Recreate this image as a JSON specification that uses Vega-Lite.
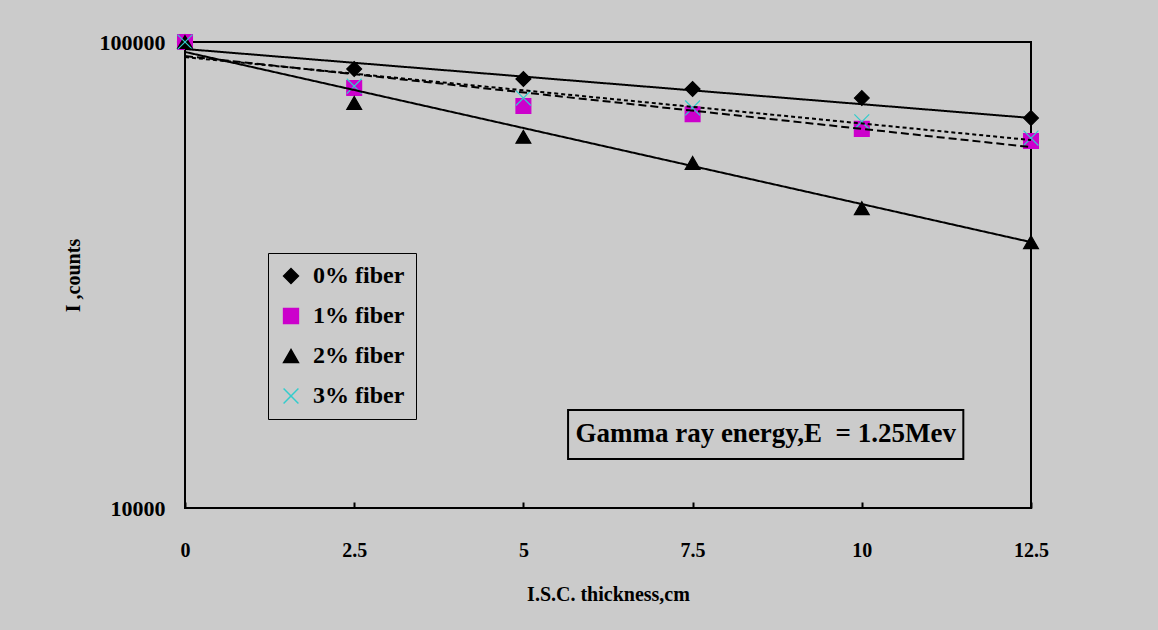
{
  "$schema": "https://vega.github.io/schema/vega-lite/v6.json",
  "width": 846,
  "height": 466,
  "autosize": {"type": "none"},
  "padding": {"left": 185, "top": 42, "right": 127, "bottom": 122},
  "background": "#cbcbcb",
  "config": {
    "view": {"stroke": "black", "strokeWidth": 2, "fill": "#cbcbcb"},
    "font": "Liberation Serif",
    "axis": {
      "grid": false,
      "domain": false,
      "labelFont": "Liberation Serif",
      "labelFontWeight": "bold",
      "labelColor": "black",
      "titleFont": "Liberation Serif",
      "titleFontWeight": "bold",
      "titleColor": "black"
    },
    "legend": {
      "labelFont": "Liberation Serif",
      "labelFontWeight": "bold",
      "labelFontSize": 24,
      "labelColor": "black"
    }
  },
  "datasets": {
    "points": [
      {"series": "0% fiber", "thickness": 0, "counts": 100000},
      {"series": "0% fiber", "thickness": 2.5, "counts": 87500},
      {"series": "0% fiber", "thickness": 5, "counts": 83300},
      {"series": "0% fiber", "thickness": 7.5, "counts": 79300},
      {"series": "0% fiber", "thickness": 10, "counts": 75800},
      {"series": "0% fiber", "thickness": 12.5, "counts": 68700},
      {"series": "1% fiber", "thickness": 0, "counts": 100000},
      {"series": "1% fiber", "thickness": 2.5, "counts": 79700},
      {"series": "1% fiber", "thickness": 5, "counts": 72900},
      {"series": "1% fiber", "thickness": 7.5, "counts": 70000},
      {"series": "1% fiber", "thickness": 10, "counts": 65100},
      {"series": "1% fiber", "thickness": 12.5, "counts": 61300},
      {"series": "2% fiber", "thickness": 0, "counts": 100000},
      {"series": "2% fiber", "thickness": 2.5, "counts": 74000},
      {"series": "2% fiber", "thickness": 5, "counts": 62600},
      {"series": "2% fiber", "thickness": 7.5, "counts": 55000},
      {"series": "2% fiber", "thickness": 10, "counts": 44000},
      {"series": "2% fiber", "thickness": 12.5, "counts": 37200},
      {"series": "3% fiber", "thickness": 0, "counts": 100000},
      {"series": "3% fiber", "thickness": 2.5, "counts": 80400},
      {"series": "3% fiber", "thickness": 5, "counts": 75800},
      {"series": "3% fiber", "thickness": 7.5, "counts": 72200},
      {"series": "3% fiber", "thickness": 10, "counts": 67400},
      {"series": "3% fiber", "thickness": 12.5, "counts": 62200}
    ],
    "trends": [
      {"trend": "0%", "thickness": 0, "counts": 96600},
      {"trend": "0%", "thickness": 12.5, "counts": 68700},
      {"trend": "1%", "thickness": 0, "counts": 93300},
      {"trend": "1%", "thickness": 12.5, "counts": 59500},
      {"trend": "2%", "thickness": 0, "counts": 95200},
      {"trend": "2%", "thickness": 12.5, "counts": 37200},
      {"trend": "3%", "thickness": 0, "counts": 92800},
      {"trend": "3%", "thickness": 12.5, "counts": 61600}
    ],
    "note": [
      {"label": "Gamma ray energy,E\u00a0 = 1.25Mev"}
    ]
  },
  "layer": [
    {
      "data": {"name": "points"},
      "mark": {"type": "point", "filled": true, "size": 220, "strokeWidth": 1.2, "opacity": 1},
      "encoding": {
        "x": {
          "field": "thickness",
          "type": "quantitative",
          "scale": {"domain": [0, 12.5], "nice": false, "zero": false},
          "axis": {
            "values": [0, 2.5, 5, 7.5, 10, 12.5],
            "format": ".1~f",
            "labelFlush": false,
            "tickSize": -6,
            "tickColor": "black",
            "tickWidth": 2,
            "labelFontSize": 20,
            "labelPadding": 38,
            "title": "I.S.C. thickness,cm",
            "titleFontSize": 20,
            "titlePadding": 24
          }
        },
        "y": {
          "field": "counts",
          "type": "quantitative",
          "scale": {"type": "log", "domain": [10000, 100000], "nice": false},
          "axis": {
            "values": [10000, 100000],
            "format": "d",
            "labelFlush": false,
            "ticks": false,
            "tickSize": 0,
            "labelFontSize": 22,
            "labelPadding": 20,
            "title": "I ,counts",
            "titleFontSize": 20,
            "titlePadding": 16
          }
        },
        "shape": {
          "field": "series",
          "type": "nominal",
          "scale": {
            "domain": ["0% fiber", "1% fiber", "2% fiber", "3% fiber"],
            "range": ["diamond", "square", "triangle-up", "M-1,-1L1,1M-1,1L1,-1"]
          },
          "legend": {
            "title": null,
            "orient": "none",
            "legendX": 83,
            "legendY": 211,
            "padding": 11,
            "rowPadding": 16,
            "labelOffset": 10,
            "symbolSize": 220,
            "strokeColor": "black",
            "fillColor": "#cbcbcb"
          }
        },
        "fill": {
          "field": "series",
          "type": "nominal",
          "scale": {
            "domain": ["0% fiber", "1% fiber", "2% fiber", "3% fiber"],
            "range": ["black", "#cc00cc", "black", "transparent"]
          }
        },
        "stroke": {
          "field": "series",
          "type": "nominal",
          "scale": {
            "domain": ["0% fiber", "1% fiber", "2% fiber", "3% fiber"],
            "range": ["black", "#cc00cc", "black", "#33cccc"]
          }
        }
      }
    },
    {
      "data": {"name": "trends"},
      "mark": {"type": "line", "strokeWidth": 2, "color": "black"},
      "encoding": {
        "x": {"field": "thickness", "type": "quantitative"},
        "y": {"field": "counts", "type": "quantitative"},
        "detail": {"field": "trend", "type": "nominal"},
        "strokeDash": {
          "field": "trend",
          "type": "nominal",
          "scale": {
            "domain": ["0%", "1%", "2%", "3%"],
            "range": [[1, 0], [8, 4], [1, 0], [4, 3]]
          },
          "legend": null
        }
      }
    },
    {
      "data": {"name": "note"},
      "mark": {"type": "rect", "fill": "#cbcbcb", "stroke": "black", "strokeWidth": 2},
      "encoding": {
        "x": {"datum": 5.66},
        "x2": {"datum": 11.5},
        "y": {"datum": 12746},
        "y2": {"datum": 16230}
      }
    },
    {
      "data": {"name": "note"},
      "mark": {
        "type": "text",
        "font": "Liberation Serif",
        "fontWeight": "bold",
        "fontSize": 27,
        "color": "black",
        "align": "center",
        "baseline": "middle"
      },
      "encoding": {
        "text": {"field": "label", "type": "nominal"},
        "x": {"datum": 8.58},
        "y": {"datum": 14415}
      }
    }
  ]
}
